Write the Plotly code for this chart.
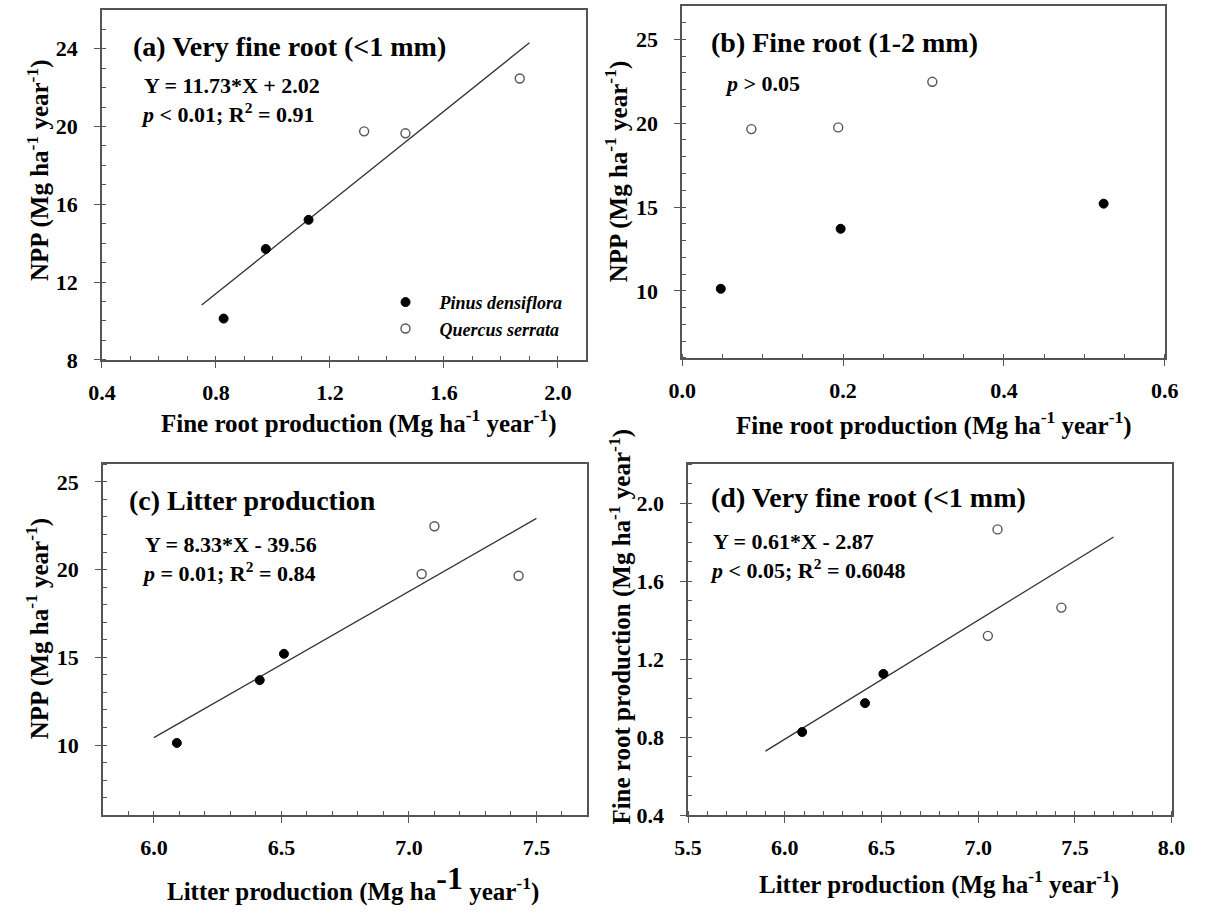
import plotly.graph_objects as go

W, H = 1211, 914

# ---- data ----
pinus_litter = [6.09, 6.415, 6.51]
pinus_vfr = [0.827, 0.975, 1.125]
pinus_fr12 = [0.048, 0.197, 0.524]
pinus_npp = [10.12, 13.70, 15.20]

quercus_litter = [7.05, 7.43, 7.10]
quercus_vfr = [1.32, 1.465, 1.866]
quercus_fr12 = [0.194, 0.086, 0.311]
quercus_npp = [19.75, 19.65, 22.47]

# regression equations (slope, intercept) and drawn x extent
fit_a = (11.73, 2.02)
fit_a_x = [0.75, 1.90]
fit_c = (8.33, -39.56)
fit_c_x = [6.0, 7.5]
fit_d = (0.61, -2.87)
fit_d_x = [5.9, 7.7]

FONT = "Liberation Serif"
AX = "#555555"


def px(x):
    return x / W


def py(y):
    return 1 - y / H


fig = go.Figure()

panels = {
    "a": dict(xa="x", ya="y", xdom=(90, 586), ydom=(10, 365)),
    "b": dict(xa="x2", ya="y2", xdom=(684, 1178), ydom=(6, 363)),
    "c": dict(xa="x3", ya="y3", xdom=(91, 587), ydom=(471, 827)),
    "d": dict(xa="x4", ya="y4", xdom=(690, 1185), ydom=(471, 827)),
}

marker_p = dict(symbol="circle", size=9, color="black", line=dict(color="black", width=1))
marker_q = dict(symbol="circle-open", size=9, color="#555555", line=dict(width=1.4))


def add_pts(key, xp, yp, xq, yq, legend=False):
    p = panels[key]
    fig.add_trace(go.Scatter(x=xp, y=yp, mode="markers", marker=marker_p,
                             name="Pinus densiflora", showlegend=legend,
                             xaxis=p["xa"], yaxis=p["ya"]))
    fig.add_trace(go.Scatter(x=xq, y=yq, mode="markers", marker=marker_q,
                             name="Quercus serrata", showlegend=legend,
                             xaxis=p["xa"], yaxis=p["ya"]))


def add_fit(key, fit, xr):
    p = panels[key]
    ys = [fit[0] * v + fit[1] for v in xr]
    fig.add_trace(go.Scatter(x=xr, y=ys, mode="lines",
                             line=dict(color="#333333", width=1.3),
                             showlegend=False, hoverinfo="skip",
                             xaxis=p["xa"], yaxis=p["ya"]))


add_fit("a", fit_a, fit_a_x)
add_pts("a", pinus_vfr, pinus_npp, quercus_vfr, quercus_npp, legend=True)
add_pts("b", pinus_fr12, pinus_npp, quercus_fr12, quercus_npp)
add_fit("c", fit_c, fit_c_x)
add_pts("c", pinus_litter, pinus_npp, quercus_litter, quercus_npp)
add_fit("d", fit_d, fit_d_x)
add_pts("d", pinus_litter, pinus_vfr, quercus_litter, quercus_vfr)

tickfont = dict(family=FONT, size=22, color="black", weight="bold")


def axis(dom, rng, dtick, minor, fmt, anchor, is_x):
    d = dict(
        domain=dom, range=rng, dtick=dtick, tick0=0, tickformat=fmt,
        showline=True, linecolor=AX, linewidth=1.5, mirror=True,
        ticks="outside", ticklen=6, tickwidth=1.3, tickcolor=AX,
        minor=dict(ticks="inside", ticklen=4, tickwidth=1, tickcolor=AX, dtick=minor),
        showgrid=False, zeroline=False, tickfont=tickfont, anchor=anchor,
        ticklabelstandoff=6 if is_x else 12,
    )
    return d


layout_axes = {}
specs = {
    "a": dict(xr=[0.4, 2.1], xd=0.4, xm=0.1, xf=".1f", yr=[8, 26], yd=4, ym=1, yf="d"),
    "b": dict(xr=[0.0, 0.6], xd=0.2, xm=0.05, xf=".1f", yr=[6, 27], yd=5, ym=1, yf="d"),
    "c": dict(xr=[5.8, 7.7], xd=0.5, xm=0.1, xf=".1f", yr=[6, 26], yd=5, ym=1, yf="d"),
    "d": dict(xr=[5.5, 8.0], xd=0.5, xm=0.1, xf=".1f", yr=[0.4, 2.2], yd=0.4, ym=0.1, yf=".1f"),
}
names = {"a": ("xaxis", "yaxis"), "b": ("xaxis2", "yaxis2"),
         "c": ("xaxis3", "yaxis3"), "d": ("xaxis4", "yaxis4")}
for k, s in specs.items():
    p = panels[k]
    xdom = (px(p["xdom"][0]), px(p["xdom"][1]))
    ydom = (py(p["ydom"][1]), py(p["ydom"][0]))
    xn, yn = names[k]
    layout_axes[xn] = axis(xdom, s["xr"], s["xd"], s["xm"], s["xf"], p["ya"], True)
    layout_axes[yn] = axis(ydom, s["yr"], s["yd"], s["ym"], s["yf"], p["xa"], False)

fig.update_layout(**layout_axes)

annos = []


def text(x, y, t, size, xanchor="left", angle=0):
    annos.append(dict(
        x=px(x), y=py(y), xref="paper", yref="paper", text=t, showarrow=False,
        xanchor=xanchor, yanchor="middle", textangle=angle,
        font=dict(family=FONT, size=size, color="black", weight="bold"),
    ))


# panel titles and statistics
text(120, 47, "(a) Very fine root (&lt;1 mm)", 28)
text(131, 87, "Y = 11.73*X + 2.02", 22)
text(128, 115, "<i>p</i> &lt; 0.01; R<sup>2</sup> = 0.91", 22)

text(711, 43, "(b) Fine root (1-2 mm)", 28)
text(726, 85, "<i>p</i> &gt; 0.05", 22)

text(116, 508, "(c) Litter production", 28)
text(132, 552, "Y = 8.33*X - 39.56", 22)
text(129, 580, "<i>p</i> = 0.01; R<sup>2</sup> = 0.84", 22)

text(711, 505, "(d) Very fine root (&lt;1 mm)", 28)
text(713, 549, "Y = 0.61*X - 2.87", 22)
text(710, 577, "<i>p</i> &lt; 0.05; R<sup>2</sup> = 0.6048", 22)

# axis titles
unit = "(Mg ha<sup>-1</sup> year<sup>-1</sup>)"
text(353, 428, "Fine root production " + unit, 25, "center")
text(942, 430, "Fine root production " + unit, 25, "center")
text(347, 896, "Litter production (Mg ha<sup><span style='font-size:32px'>-1</span></sup> year<sup>-1</sup>)", 25, "center")
text(947, 895, "Litter production " + unit, 25, "center")

text(25, 173, "NPP " + unit, 25, "center", -90)
text(617, 174, "NPP " + unit, 25, "center", -90)
text(25, 638, "NPP " + unit, 25, "center", -90)
text(621, 636, "Fine root production " + unit, 25, "center", -90)

fig.update_layout(
    width=W, height=H, margin=dict(l=0, r=0, t=0, b=0),
    paper_bgcolor="white", plot_bgcolor="white",
    annotations=annos,
    legend=dict(x=px(366), y=py(288), xanchor="left", yanchor="top",
                bgcolor="rgba(0,0,0,0)", borderwidth=0, tracegroupgap=0,
                itemwidth=58,
                font=dict(family=FONT, size=18, color="black", weight="bold", style="italic")),
    showlegend=True,
)

fig.write_html("out.html", config={"displayModeBar": False},
               post_script="document.body.style.margin='0';")
